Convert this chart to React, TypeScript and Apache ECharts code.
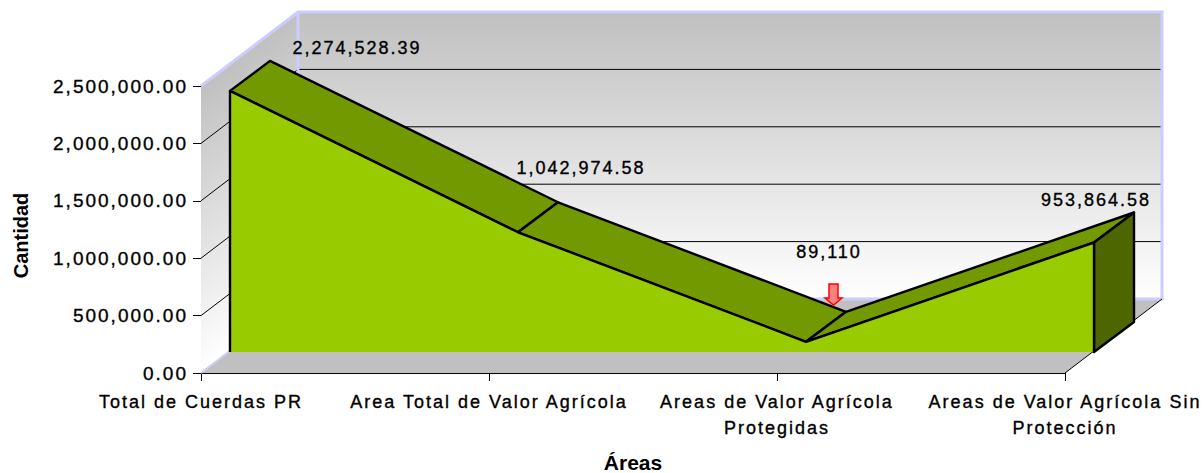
import React, { useEffect, useRef } from "react";
import * as echarts from "echarts";

const categories = [
  "Total de Cuerdas PR",
  "Area Total de Valor Agrícola",
  "Areas de Valor Agrícola\nProtegidas",
  "Areas de Valor Agrícola Sin\nProtección",
];
const seriesValues = [2274528.39, 1042974.58, 89110, 953864.58];
const dataLabels = ["2,274,528.39", "1,042,974.58", "89,110", "953,864.58"];
const yTicks = [0, 500000, 1000000, 1500000, 2000000, 2500000];

const FONT = '"Liberation Sans", Arial, sans-serif';
const WALL: [number, number] = [97, -74];
const FRONT: [number, number] = [29, -21];
const BACK: [number, number] = [69, -51];
const LABEL_SHIFT: [number, number][] = [
  [87, -13],
  [23, -34],
  [-17, -60],
  [-38, -12],
];
const LAV = "#ccccff";

const add = (p: number[], o: number[]) => [p[0] + o[0], p[1] + o[1]];

function renderWalls(_: any, api: any) {
  const a0 = api.coord([0, 0]);
  const a1 = api.coord([categories.length - 1, 0]);
  const t0 = api.coord([0, 2500000]);
  const t1 = api.coord([categories.length - 1, 2500000]);
  const b0 = add(a0, WALL), b1 = add(a1, WALL), bt0 = add(t0, WALL), bt1 = add(t1, WALL);

  const h = a0[1] - t0[1];
  const len2 = WALL[0] * WALL[0] + WALL[1] * WALL[1];
  const nx = -WALL[1], ny = WALL[0];
  const proj = (h * ny) / len2;
  const sideGrad = new echarts.graphic.LinearGradient(
    t0[0], t0[1], t0[0] + nx * proj, t0[1] + ny * proj,
    [{ offset: 0, color: "#c0c0c0" }, { offset: 1, color: "#ffffff" }],
    true
  );
  const backGrad = new echarts.graphic.LinearGradient(
    0, 0, 0, 1,
    [{ offset: 0, color: "#c0c0c0" }, { offset: 1, color: "#ffffff" }]
  );
  const children: any[] = [
    { type: "polygon", shape: { points: [t0, bt0, b0, a0] }, style: { fill: sideGrad } },
    { type: "polygon", shape: { points: [bt0, bt1, b1, b0] }, style: { fill: backGrad } },
    { type: "polygon", shape: { points: [a0, a1, b1, b0] }, style: { fill: "#c0c0c0" } },
  ];
  yTicks.slice(1, -1).forEach((v) => {
    const p = api.coord([0, v]);
    const q = api.coord([categories.length - 1, v]);
    children.push({
      type: "polyline",
      shape: { points: [p, add(p, WALL), add(q, WALL)] },
      style: { fill: "none", stroke: "#000", lineWidth: 1 },
    });
  });
  children.push(
    {
      type: "polyline",
      shape: { points: [t0, bt0, bt1, b1, b0] },
      style: { fill: "none", stroke: LAV, lineWidth: 3 },
    },
    { type: "line", shape: { x1: bt0[0], y1: bt0[1], x2: b0[0], y2: b0[1] }, style: { stroke: LAV, lineWidth: 3 } },
    { type: "line", shape: { x1: a0[0], y1: a0[1], x2: b0[0], y2: b0[1] }, style: { stroke: LAV, lineWidth: 2 } },
    { type: "line", shape: { x1: a1[0], y1: a1[1], x2: b1[0], y2: b1[1] }, style: { stroke: "#000", lineWidth: 1 } }
  );
  return { type: "group", children };
}

function renderArea(params: any, api: any) {
  const i = params.dataIndex;
  const n = seriesValues.length;
  const pt = (k: number, o: number[]) => add(api.coord([k, seriesValues[k]]), o);
  const base = (k: number, o: number[]) => add(api.coord([k, 0]), o);
  const stroke = { stroke: "#000", lineWidth: 2.4, lineJoin: "round" };
  const children: any[] = [];
  if (i < n - 1) {
    children.push({
      type: "polygon",
      shape: { points: [pt(i, FRONT), pt(i, BACK), pt(i + 1, BACK), pt(i + 1, FRONT)] },
      style: { fill: "#739900", ...stroke },
    });
  } else {
    const frontTop = seriesValues.map((_, k) => pt(k, FRONT));
    children.push(
      {
        type: "polygon",
        shape: { points: [pt(i, FRONT), pt(i, BACK), base(i, BACK), base(i, FRONT)] },
        style: { fill: "#4d6600", ...stroke },
      },
      {
        type: "polygon",
        shape: { points: [base(0, FRONT), ...frontTop, base(i, FRONT)] },
        style: { fill: "#99cc00" },
      },
      {
        type: "polyline",
        shape: { points: [base(0, FRONT), ...frontTop, base(i, FRONT)] },
        style: { fill: "none", ...stroke },
      }
    );
  }
  const lp = add(pt(i, BACK), LABEL_SHIFT[i]);
  children.push({
    type: "text",
    z2: 10,
    style: {
      text: dataLabels[i],
      x: lp[0],
      y: lp[1],
      fill: "#000",
      font: `18px ${FONT}`,
      textAlign: "center",
      textVerticalAlign: "middle",
    },
  });
  return { type: "group", children };
}

export default function App() {
  const ref = useRef<HTMLDivElement>(null);
  useEffect(() => {
    if (!ref.current) return;
    const chart = echarts.init(ref.current, undefined, { renderer: "svg" });
    const labelStyle = {
      color: "#000",
      fontFamily: FONT,
      fontSize: 18,
      fontWeight: "normal" as const,
    };
    chart.setOption({
      animation: false,
      backgroundColor: "#ffffff",
      grid: { left: 201, right: 138, top: 86, height: 287, outerBoundsMode: "none" },
      xAxis: {
        type: "category",
        boundaryGap: false,
        data: categories,
        axisLine: { lineStyle: { color: "#000", width: 1 } },
        axisTick: { length: 8, lineStyle: { color: "#000" }, alignWithLabel: true },
        axisLabel: { ...labelStyle, interval: 0, margin: 16, lineHeight: 26 },
        splitLine: { show: false },
        name: "Áreas",
        nameLocation: "middle",
        nameGap: 79,
        nameTextStyle: {
          fontFamily: FONT,
          fontWeight: "bold",
          fontSize: 21,
          lineHeight: 21,
          color: "#000",
        },
      },
      yAxis: {
        type: "value",
        min: 0,
        max: 2500000,
        interval: 500000,
        axisLine: { show: true, lineStyle: { color: "#333377", width: 1 } },
        axisTick: { show: true, length: 8, lineStyle: { color: "#000" } },
        axisLabel: {
          ...labelStyle,
          fontSize: 19,
          margin: 13,
          formatter: (v: number) =>
            v.toLocaleString("en-US", { minimumFractionDigits: 2, maximumFractionDigits: 2 }),
        },
        splitLine: { show: false },
        name: "Cantidad",
        nameLocation: "middle",
        nameGap: 170,
        nameRotate: 90,
        nameTextStyle: {
          fontFamily: FONT,
          fontWeight: "bold",
          fontSize: 20,
          color: "#000",
          padding: [0, 12, 0, 0],
        },
      },
      series: [
        { type: "custom", z: 1, silent: true, renderItem: renderWalls, data: [[0, 0]] },
        {
          type: "custom",
          z: 2,
          silent: true,
          renderItem: renderArea,
          data: seriesValues.map((v, k) => [k, v]),
        },
      ],
      graphic: [
        {
          type: "polygon",
          z: 10,
          shape: {
            points: [
              [829, 284], [838, 284], [838, 298], [842, 298], [833.5, 305], [825, 298], [829, 298],
            ],
          },
          style: { fill: "#ff8080", stroke: "#ff0000", lineWidth: 1.5 },
        },
      ],
    });
    return () => chart.dispose();
  }, []);
  return (
    <>
      <style>{`#root svg text { letter-spacing: 2px; stroke: #000; stroke-width: 0.35px; }
#root svg text[style*="bold"] { letter-spacing: 0; stroke: none; }`}</style>
      <div ref={ref} style={{ position: "absolute", left: 0, top: 0, width: 1203, height: 473 }} />
    </>
  );
}
